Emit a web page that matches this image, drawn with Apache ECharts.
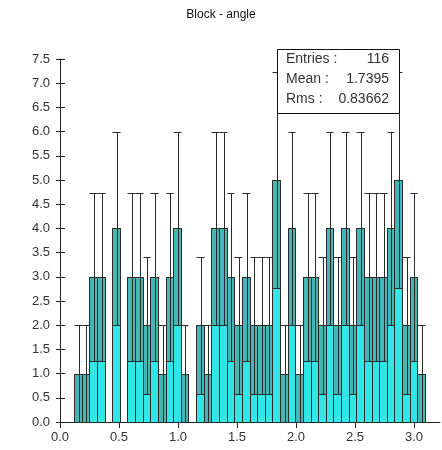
<!DOCTYPE html>
<html>
<head>
<meta charset="utf-8">
<script src="https://cdn.jsdelivr.net/npm/echarts@6/dist/echarts.min.js"></script>
<style>
  html, body { margin: 0; padding: 0; background: #fff; }
  #chart { width: 442px; height: 450px; }
</style>
</head>
<body>
<div id="chart"></div>
<script>
// histogram data
var titleText = 'Block - angle';
var binLow = 0.1186;
var binHigh = 3.093;
var counts = [1, 1, 3, 3, 0, 4, 0, 3, 3, 2, 3, 1, 3, 4, 1, 0,
  2, 1, 4, 4, 3, 2, 3, 2, 2, 2, 5, 1, 4, 1, 3, 3,
  2, 4, 2, 4, 2, 4, 3, 3, 3, 4, 5, 2, 3, 1];
var xTicks = [0, 0.5, 1.0, 1.5, 2.0, 2.5, 3.0];
var yTicks = [0, 0.5, 1, 1.5, 2, 2.5, 3, 3.5, 4, 4.5, 5, 5.5, 6, 6.5, 7, 7.5];
var statLabels = ['Entries :', 'Mean :', 'Rms :'];
var statValues = ['116', '1.7395', '0.83662'];

var binWidth = (binHigh - binLow) / counts.length;
var bins = counts.map(function (n, i) {
  return [binLow + i * binWidth, binLow + (i + 1) * binWidth, n];
});

var lineCol = '#2b2b2b';
var lightCol = '#30e6e6';
var darkCol = '#44b6b6';
var fontFam = '"Liberation Sans", Arial, sans-serif';

// bar + darker lower-error box + error line with top cap
function renderBin(params, api) {
  var lo = api.value(0), hi = api.value(1), n = api.value(2);
  if (!n) return null;
  var err = Math.sqrt(n);
  var p0 = api.coord([lo, 0]);
  var p1 = api.coord([hi, n]);
  var pLow = api.coord([lo, n - err]);
  var pTop = api.coord([lo, n + err]);
  var x0 = Math.round(p0[0]) + 0.5, x1 = Math.round(p1[0]) + 0.5;
  var yb = Math.round(p0[1]) + 0.5, yn = Math.round(p1[1]) + 0.5;
  var yl = Math.round(pLow[1]) + 0.5, yt = Math.round(pTop[1]) + 0.5;
  var xc = Math.round((x0 + x1) / 2) + 0.5;
  return {
    type: 'group',
    children: [
      { type: 'rect', shape: { x: x0, y: yn, width: x1 - x0, height: yb - yn },
        style: { fill: lightCol, stroke: lineCol, lineWidth: 1 } },
      { type: 'rect', shape: { x: x0, y: yn, width: x1 - x0, height: yl - yn },
        style: { fill: darkCol, stroke: lineCol, lineWidth: 1 } },
      { type: 'line', shape: { x1: xc, y1: yl, x2: xc, y2: yt },
        style: { stroke: lineCol, lineWidth: 1 } },
      { type: 'line', shape: { x1: x0, y1: yt, x2: x1, y2: yt },
        style: { stroke: lineCol, lineWidth: 1 } }
    ]
  };
}

var chart = echarts.init(document.getElementById('chart'));

var statGraphics = [{
  type: 'rect', left: 277, top: 49, z: 100,
  shape: { width: 122, height: 64 },
  style: { fill: '#fff', stroke: '#111', lineWidth: 1 }
}];
statLabels.forEach(function (s, i) {
  statGraphics.push({
    type: 'text', left: 286, top: 52 + i * 20, z: 101,
    style: { text: s, font: '14px ' + fontFam, fill: '#333' }
  });
  statGraphics.push({
    type: 'text', right: 442 - 389, top: 52 + i * 20, z: 101,
    style: { text: statValues[i], font: '14px ' + fontFam, fill: '#333' }
  });
});

var axisLineStyle = { color: '#222', width: 1 };

chart.setOption({
  backgroundColor: '#fff',
  animation: false,
  title: {
    text: titleText, left: 'center', top: 4,
    textStyle: { fontSize: 12, fontWeight: 'normal', color: '#111', fontFamily: fontFam }
  },
  grid: { left: 60, right: 2, top: 59, bottom: 28 },
  xAxis: {
    type: 'value', min: 0, max: 3.22,
    axisLine: { show: true, onZero: false, lineStyle: axisLineStyle },
    axisTick: { show: true, length: 6, customValues: xTicks, lineStyle: axisLineStyle },
    axisLabel: {
      customValues: xTicks, fontSize: 13, color: '#333', margin: 9,
      fontFamily: fontFam,
      formatter: function (v) { return v.toFixed(1); }
    },
    splitLine: { show: false }
  },
  yAxis: [{
    type: 'value', min: 0, max: 7.5, interval: 0.5,
    axisLine: { show: true, lineStyle: axisLineStyle },
    axisTick: { show: true, length: 4, customValues: yTicks, lineStyle: axisLineStyle },
    axisLabel: {
      customValues: yTicks, fontSize: 13, color: '#333', margin: 10,
      fontFamily: fontFam,
      formatter: function (v) { return v.toFixed(1); }
    },
    splitLine: { show: false }
  }, {
    type: 'value', min: 0, max: 7.5, interval: 0.5, position: 'left',
    axisLine: { show: false },
    axisTick: { show: true, inside: true, length: 5, customValues: yTicks, lineStyle: axisLineStyle },
    axisLabel: { show: false },
    splitLine: { show: false }
  }],
  series: [{
    type: 'custom',
    renderItem: renderBin,
    encode: { x: [0, 1], y: 2 },
    data: bins,
    clip: false
  }],
  graphic: statGraphics
});
</script>
</body>
</html>
